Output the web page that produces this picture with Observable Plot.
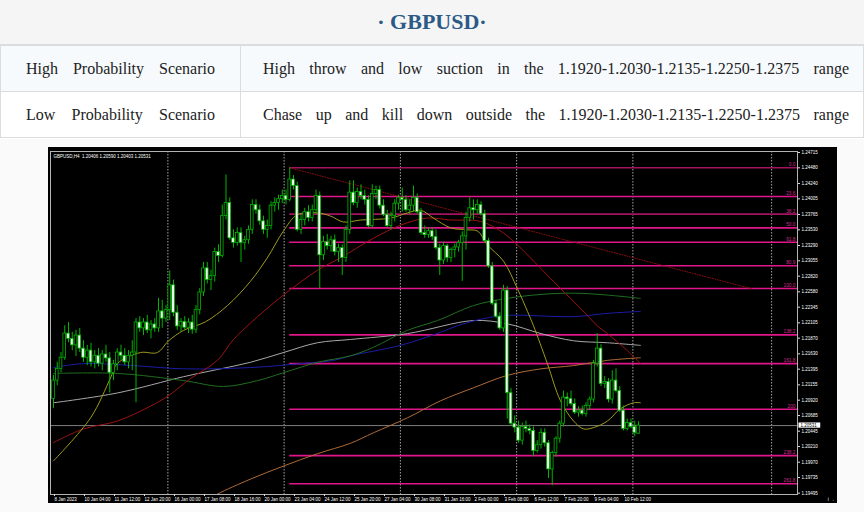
<!DOCTYPE html>
<html><head><meta charset="utf-8">
<script src="https://cdn.jsdelivr.net/npm/d3@7"></script>
<script src="https://cdn.jsdelivr.net/npm/@observablehq/plot@0.6"></script>
<style>
body{margin:0;width:864px;height:512px;overflow:hidden;background:#fff;font-family:"Liberation Serif","Times New Roman",serif;position:relative;}
#title{position:absolute;left:0;top:0;width:864px;height:44px;border-bottom:1px solid #dcdcdc;background:#f5f5f5;text-align:center;line-height:44px;font-size:22px;font-weight:bold;color:#2c5a86;}
table{position:absolute;left:0;top:45px;border-collapse:collapse;width:864px;table-layout:fixed;}
td{border:1px solid #dcdcdc;height:45px;padding:0;font-size:16px;color:#222;text-align:justify;text-align-last:justify;white-space:nowrap;}
td.c1{width:240px;padding-left:25px;padding-right:25px;box-sizing:border-box;}
td.c2{padding-left:22px;padding-right:14px;}
tr.r1 td{background:#f7fafd;}
tr.r2 td{background:#fff;}
#chartrow{position:absolute;left:0;top:139px;width:864px;height:373px;background:#fafafa;}
#chart{position:absolute;left:48px;top:147px;}
</style></head>
<body>
<div id="title">· GBPUSD·</div>
<table>
<tr class="r1"><td class="c1">High Probability Scenario</td><td class="c2">High throw and low suction in the 1.1920-1.2030-1.2135-1.2250-1.2375 range</td></tr>
<tr class="r2"><td class="c1">Low Probability Scenario</td><td class="c2">Chase up and kill down outside the 1.1920-1.2030-1.2135-1.2250-1.2375 range</td></tr>
</table>
<div id="chartrow"></div>
<div id="chart"></div>
<script>
// ---- H4 candles (bar index 0 = 8 Jan 2023) ----
const opens = [1.2094,1.2122,1.2140,1.2157,1.2194,1.2186,1.2176,1.2191,1.2171,1.2157,
1.2168,1.2150,1.2160,1.2148,1.2162,1.2156,1.2134,1.2147,1.2165,1.2160,
1.2150,1.2160,1.2165,1.2211,1.2202,1.2211,1.2199,1.2208,1.2202,1.2228,
1.2217,1.2230,1.2268,1.2226,1.2205,1.2212,1.2203,1.2211,1.2200,1.2230,
1.2257,1.2294,1.2276,1.2282,1.2319,1.2313,1.2374,1.2394,1.2340,1.2333,
1.2348,1.2333,1.2337,1.2353,1.2391,1.2383,1.2366,1.2353,1.2359,1.2390,
1.2394,1.2400,1.2405,1.2399,1.2430,1.2420,1.2353,1.2368,1.2380,1.2371,
1.2383,1.2405,1.2314,1.2334,1.2328,1.2337,1.2319,1.2325,1.2310,1.2353,
1.2410,1.2394,1.2411,1.2405,1.2399,1.2359,1.2408,1.2414,1.2390,1.2376,
1.2359,1.2374,1.2393,1.2402,1.2399,1.2383,1.2390,1.2402,1.2380,1.2348,
1.2345,1.2351,1.2342,1.2325,1.2306,1.2328,1.2310,1.2322,1.2326,1.2333,
1.2343,1.2371,1.2386,1.2383,1.2391,1.2377,1.2336,1.2297,1.2240,1.2220,
1.2202,1.2260,1.2103,1.2056,1.2050,1.2030,1.2051,1.2048,1.2045,1.2014,
1.2023,1.2042,1.2026,1.1986,1.2011,1.2033,1.2056,1.2096,1.2094,1.2086,
1.2073,1.2076,1.2071,1.2083,1.2093,1.2148,1.2171,1.2117,1.2120,1.2093,
1.2122,1.2106,1.2076,1.2048,1.2057,1.2051,1.20406];
const highs = [1.2130,1.2150,1.2165,1.2206,1.2211,1.2196,1.2199,1.2202,1.2183,1.2176,
1.2179,1.2168,1.2171,1.2168,1.2176,1.2165,1.2153,1.2171,1.2176,1.2171,
1.2168,1.2183,1.2217,1.2220,1.2217,1.2222,1.2214,1.2217,1.2248,1.2245,
1.2237,1.2290,1.2276,1.2237,1.2217,1.2220,1.2217,1.2222,1.2237,1.2263,
1.2303,1.2303,1.2291,1.2325,1.2330,1.2391,1.2437,1.2402,1.2353,1.2356,
1.2356,1.2343,1.2359,1.2399,1.2399,1.2391,1.2374,1.2368,1.2396,1.2402,
1.2406,1.2414,1.2414,1.2448,1.2436,1.2426,1.2376,1.2386,1.2390,1.2391,
1.2414,1.2411,1.2343,1.2346,1.2343,1.2345,1.2331,1.2330,1.2359,1.2428,
1.2428,1.2417,1.2422,1.2414,1.2405,1.2422,1.2420,1.2420,1.2399,1.2383,
1.2380,1.2399,1.2406,1.2417,1.2405,1.2399,1.2420,1.2408,1.2386,1.2359,
1.2356,1.2356,1.2353,1.2331,1.2334,1.2331,1.2325,1.2331,1.2337,1.2350,
1.2380,1.2402,1.2399,1.2399,1.2396,1.2383,1.2340,1.2303,1.2245,1.2226,
1.2268,1.2266,1.2110,1.2068,1.2060,1.2057,1.2060,1.2054,1.2051,1.2030,
1.2048,1.2048,1.2030,1.2014,1.2036,1.2060,1.2106,1.2103,1.2106,1.2094,
1.2082,1.2083,1.2088,1.2097,1.2153,1.2194,1.2177,1.2128,1.2125,1.2137,
1.2140,1.2113,1.2083,1.2063,1.2063,1.2060,1.20590];
const lows = [1.2079,1.2114,1.2134,1.2153,1.2180,1.2168,1.2159,1.2165,1.2150,1.2145,
1.2143,1.2140,1.2143,1.2137,1.2150,1.2103,1.2122,1.2137,1.2153,1.2145,
1.2140,1.2137,1.2088,1.2196,1.2191,1.2194,1.2186,1.2196,1.2196,1.2202,
1.2211,1.2214,1.2220,1.2199,1.2196,1.2199,1.2194,1.2193,1.2194,1.2223,
1.2251,1.2270,1.2260,1.2273,1.2303,1.2310,1.2368,1.2337,1.2325,1.2328,
1.2303,1.2322,1.2331,1.2346,1.2377,1.2360,1.2346,1.2340,1.2353,1.2380,
1.2383,1.2393,1.2391,1.2396,1.2414,1.2350,1.2346,1.2359,1.2365,1.2365,
1.2377,1.2263,1.2306,1.2322,1.2319,1.2313,1.2303,1.2283,1.2303,1.2346,
1.2390,1.2386,1.2399,1.2391,1.2356,1.2356,1.2399,1.2385,1.2373,1.2356,
1.2353,1.2365,1.2383,1.2380,1.2380,1.2376,1.2380,1.2377,1.2345,1.2340,
1.2340,1.2337,1.2322,1.2283,1.2300,1.2303,1.2303,1.2310,1.2319,1.2274,
1.2322,1.2365,1.2368,1.2377,1.2374,1.2333,1.2294,1.2237,1.2217,1.2199,
1.2196,1.2063,1.2053,1.2042,1.2026,1.2023,1.2042,1.2039,1.2006,1.2011,
1.2017,1.2020,1.1972,1.1961,1.2005,1.2026,1.2051,1.2082,1.2083,1.2070,
1.2066,1.2068,1.2066,1.2076,1.2088,1.2143,1.2113,1.2110,1.2088,1.2086,
1.2103,1.2073,1.2045,1.2045,1.2048,1.2036,1.20403];
const closes = [1.2122,1.2140,1.2157,1.2194,1.2186,1.2176,1.2191,1.2171,1.2157,1.2168,
1.2150,1.2160,1.2148,1.2162,1.2156,1.2134,1.2147,1.2165,1.2160,1.2150,
1.2160,1.2165,1.2211,1.2202,1.2211,1.2199,1.2208,1.2202,1.2228,1.2217,
1.2230,1.2268,1.2226,1.2205,1.2212,1.2203,1.2211,1.2200,1.2230,1.2257,
1.2294,1.2276,1.2282,1.2319,1.2313,1.2374,1.2394,1.2340,1.2333,1.2348,
1.2333,1.2337,1.2353,1.2391,1.2383,1.2366,1.2353,1.2359,1.2390,1.2394,
1.2400,1.2405,1.2399,1.2430,1.2420,1.2353,1.2368,1.2380,1.2371,1.2383,
1.2405,1.2314,1.2334,1.2328,1.2337,1.2319,1.2325,1.2310,1.2353,1.2410,
1.2394,1.2411,1.2405,1.2399,1.2359,1.2408,1.2414,1.2390,1.2376,1.2359,
1.2374,1.2393,1.2402,1.2399,1.2383,1.2390,1.2402,1.2380,1.2348,1.2345,
1.2351,1.2342,1.2325,1.2306,1.2328,1.2310,1.2322,1.2326,1.2333,1.2343,
1.2371,1.2386,1.2383,1.2391,1.2377,1.2336,1.2297,1.2240,1.2220,1.2202,
1.2260,1.2103,1.2056,1.2050,1.2030,1.2051,1.2048,1.2045,1.2014,1.2023,
1.2042,1.2026,1.1986,1.2011,1.2033,1.2056,1.2096,1.2094,1.2086,1.2073,
1.2076,1.2071,1.2083,1.2093,1.2148,1.2171,1.2117,1.2120,1.2093,1.2122,
1.2106,1.2076,1.2048,1.2057,1.2051,1.2042,1.20531];

// ---- moving averages: [bar index, price] ----
const maYellow = [[0,1.1999],[9.9,1.2065],[15.2,1.2126],[17,1.2148],[23.2,1.2165],[27.7,1.2165],[30.7,1.2183],[34.7,1.2199],[40.5,1.2212],[46.4,1.2237],[52.5,1.2274],[57,1.2310],[61.3,1.2351],[65,1.2376],[70.4,1.2379],[73.9,1.2374],[77.3,1.2365],[81.9,1.2368],[89.9,1.2371],[94.4,1.2379],[97.9,1.2383],[101.3,1.2371],[105.9,1.2356],[110.4,1.2353],[113.1,1.2351],[115.7,1.2330],[120,1.2305],[123.7,1.2263],[126.4,1.2228],[128,1.2206],[131.7,1.2148],[135.2,1.2091],[138.7,1.2060],[141.3,1.2048],[144,1.2050],[147.7,1.2060],[151.2,1.2079],[154.7,1.2088],[156.5,1.2088]];
const maRed = [[0,1.2027],[8,1.2048],[17,1.2060],[25.9,1.2083],[30.7,1.2099],[36.5,1.2125],[43.7,1.2153],[48,1.2185],[52.5,1.2210],[61.3,1.2253],[70.4,1.2291],[76.5,1.2310],[85.3,1.2340],[92.5,1.2360],[99.7,1.2371],[105.9,1.2368],[113.9,1.2366],[120,1.2348],[123.7,1.2330],[129.9,1.2294],[135.2,1.2263],[140.5,1.2233],[145,1.2206],[147.7,1.2194],[153,1.2168],[156.5,1.2148]];
const maGreen = [[0,1.2133],[17,1.2133],[34.7,1.2122],[45.3,1.2113],[54.4,1.2122],[61.3,1.2134],[70.4,1.2150],[79.2,1.2160],[85.3,1.2173],[94.4,1.2199],[102.4,1.2214],[112,1.2237],[121,1.2248],[130,1.2254],[138.7,1.2256],[147.7,1.2253],[156.5,1.2248]];
const maBlue = [[0,1.2142],[8,1.2148],[21.3,1.2145],[34.7,1.2140],[52.5,1.2142],[65.9,1.2148],[74.7,1.2153],[79.2,1.2160],[92.5,1.2176],[103.2,1.2196],[107.7,1.2206],[114.7,1.2217],[121,1.2222],[138.7,1.2220],[147.7,1.2225],[156.5,1.2228]];
const maGray = [[0,1.2088],[17,1.2103],[34.7,1.2128],[43.7,1.2139],[52.5,1.2150],[61.3,1.2165],[70.4,1.2180],[79.2,1.2185],[94.4,1.2194],[112,1.2214],[121,1.2209],[130,1.2194],[138.7,1.2183],[147.7,1.2180],[156.5,1.2176]];
const maBrown = [[40.5,1.1937],[43.7,1.1948],[52.5,1.1971],[61.3,1.1991],[70.4,1.2010],[79.2,1.2026],[85.3,1.2042],[94.4,1.2065],[103.2,1.2091],[112,1.2111],[121,1.2130],[130,1.2140],[138.7,1.2145],[147.7,1.2153],[156.5,1.2157]];

// ---- Fibonacci levels drawn from the 1.2448 high ----
const fibLabels = ["0.0","23.6","38.2","50.0","61.8","80.9","100.0","138.2","161.8","200","238.2","261.8"];
const fibPrices = [1.2448,1.2404,1.2377,1.2356,1.2334,1.2298,1.2263,1.2192,1.2148,1.2078,1.2007,1.1964];
const fibAnchorBar = 63;
const trendLine = [[63,1.2448],[186,1.2263]];

// ---- axes ----
const priceTicks = [1.24715,1.24480,1.24240,1.24005,1.23765,1.23530,1.23290,1.23055,1.22820,1.22580,1.22345,1.22105,1.21870,1.21630,1.21395,1.21155,1.20920,1.20685,1.20445,1.20210,1.19970,1.19735,1.19495];
const dateLabels = ["8 Jan 2023","10 Jan 04:00","11 Jan 12:00","12 Jan 20:00","16 Jan 00:00","17 Jan 08:00","18 Jan 16:00","20 Jan 00:00","23 Jan 04:00","24 Jan 12:00","25 Jan 20:00","27 Jan 04:00","30 Jan 08:00","31 Jan 16:00","2 Feb 00:00","3 Feb 08:00","6 Feb 12:00","7 Feb 20:00","9 Feb 04:00","10 Feb 12:00"];
const dateBars = [0,8,16,24,32,40,48,56,64,72,80,88,96,104,112,120,128,136,144,152];
const separatorBars = [30.5,61.5,92.5,123.5,154.5,191.5];
const currentPrice = 1.20531;
const header = "GBPUSD,H4  1.20406 1.20590 1.20403 1.20531";

const bars = closes.map((c, i) => ({i, o: opens[i], h: highs[i], l: lows[i], c}));
const fibs = fibPrices.map((p, k) => ({p, label: fibLabels[k], dim: k === 0 || k === 2}));
const toPts = a => a.map(([i, p]) => ({i, p}));
const labelOf = new Map(dateBars.map((b, k) => [b, dateLabels[k]]));
const xDom = [-0.8, 198.4];
const green = "#00b400";

const chart = Plot.plot({
  width: 789, height: 356,
  marginLeft: 2, marginRight: 40, marginTop: 4, marginBottom: 9,
  style: {background: "#000", fontFamily: "Liberation Sans, Arial, sans-serif", fontSize: "4.5px", color: "#fff", overflow: "visible"},
  x: {domain: xDom, axis: null},
  y: {domain: [1.19475, 1.2473], axis: null},
  marks: [
    Plot.ruleX(separatorBars, {stroke: "#d0d0d0", strokeWidth: 0.8, strokeDasharray: "1.5,1.5"}),
    Plot.ruleY([currentPrice], {stroke: "#7c7c7c", strokeWidth: 1}),
    Plot.ruleY(fibs, {y: "p", x1: fibAnchorBar, x2: xDom[1], stroke: d => d.dim ? "#a3135f" : "#e0168a", strokeWidth: 1.6}),
    Plot.text(fibs, {y: "p", text: "label", frameAnchor: "right", textAnchor: "end", dx: -2, dy: -3, fill: "#d02a92", fontSize: 4.8}),
    Plot.line(toPts(trendLine), {x: "i", y: "p", stroke: "#8a0f0f", strokeWidth: 1, strokeDasharray: "1,1.6"}),
    Plot.line(toPts(maBrown), {x: "i", y: "p", stroke: "#b06a35", strokeWidth: 1, curve: "catmull-rom", clip: true}),
    Plot.line(toPts(maGray), {x: "i", y: "p", stroke: "#a8a8a8", strokeWidth: 1, curve: "catmull-rom"}),
    Plot.line(toPts(maBlue), {x: "i", y: "p", stroke: "#1c1ca8", strokeWidth: 1, curve: "catmull-rom"}),
    Plot.line(toPts(maGreen), {x: "i", y: "p", stroke: "#1f6e1f", strokeWidth: 1, curve: "catmull-rom"}),
    Plot.line(toPts(maRed), {x: "i", y: "p", stroke: "#9c1212", strokeWidth: 1, curve: "catmull-rom"}),
    Plot.line(toPts(maYellow), {x: "i", y: "p", stroke: "#a09a1c", strokeWidth: 1, curve: "catmull-rom"}),
    Plot.ruleX(bars, {x: "i", y1: "l", y2: "h", stroke: green, strokeWidth: 1}),
    Plot.rect(bars, {x1: d => d.i - 0.36, x2: d => d.i + 0.36, y1: "o", y2: "c", fill: d => d.c >= d.o ? "#000" : "#f2fff2", stroke: green, strokeWidth: 0.8}),
    Plot.frame({stroke: "#b4b4b4", strokeWidth: 1}),
    Plot.axisY(priceTicks, {anchor: "right", tickSize: 2, tickPadding: 2, tickFormat: d => d.toFixed(5), fill: "#fff", stroke: "#ddd"}),
    Plot.rect([currentPrice], {x1: xDom[1] + 0.4, x2: xDom[1] + 6.2, y1: d => d - 0.0004, y2: d => d + 0.0004, fill: "#fff"}),
    Plot.text([currentPrice], {x: xDom[1], y: d => d, text: d => d.toFixed(5), dx: 3, textAnchor: "start", fill: "#000"}),
    Plot.axisX(dateBars, {anchor: "bottom", tickSize: 2, tickPadding: 1, textAnchor: "start", dx: 1, tickFormat: d => labelOf.get(d), fill: "#fff", stroke: "#ddd"}),
    Plot.text([header], {frameAnchor: "top-left", dx: 3, dy: 3, textAnchor: "start", fill: "#fff"})
  ]
});
document.getElementById("chart").appendChild(chart);
</script>
</body></html>
